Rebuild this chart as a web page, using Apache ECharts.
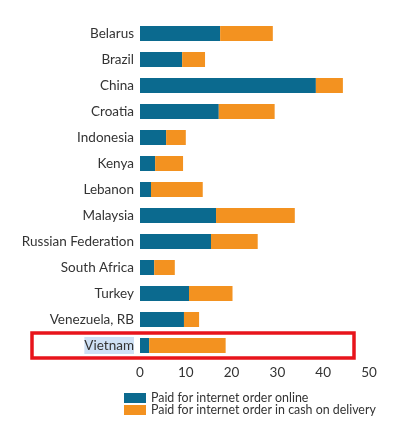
<!DOCTYPE html>
<html>
<head>
<meta charset="utf-8">
<script src="https://cdn.jsdelivr.net/npm/echarts@6/dist/echarts.min.js"></script>
<style>html,body{margin:0;padding:0;background:#fff;}#c{width:396px;height:429px;}</style>
</head>
<body>
<div id="c"></div>
<script>
var categories = ['Belarus','Brazil','China','Croatia','Indonesia','Kenya','Lebanon','Malaysia','Russian Federation','South Africa','Turkey','Venezuela, RB','Vietnam'];
var paidOnline = [17.5, 9.2, 38.4, 17.2, 5.7, 3.3, 2.4, 16.6, 15.5, 3.1, 10.7, 9.6, 2.0];
var paidCash = [11.5, 5.0, 5.9, 12.2, 4.3, 6.1, 11.3, 17.2, 10.2, 4.5, 9.5, 3.3, 16.7];
var xTicks = [0, 10, 20, 30, 40, 50];
var seriesNames = ['Paid for internet order online', 'Paid for internet order in cash on delivery'];
var highlightCategory = 'Vietnam';

var chart = echarts.init(document.getElementById('c'));
var font = 'Lato, "Open Sans", sans-serif';
chart.setOption({
  animation: false,
  color: ['#0b6a8f', '#f39220'],
  grid: {left: 140, right: 27, top: 20.5, bottom: 70.5, containLabel: false},
  legend: {
    orient: 'vertical', left: 119, top: 387, itemWidth: 22, itemHeight: 10, itemGap: 0,
    icon: 'rect', textStyle: {fontFamily: font, fontSize: 12.4, color: '#333', padding: [0, 0, 0, 0]},
    data: seriesNames
  },
  xAxis: {
    type: 'value', min: xTicks[0], max: xTicks[xTicks.length - 1], interval: 10,
    axisLine: {show: false}, axisTick: {show: false}, splitLine: {show: false},
    axisLabel: {fontFamily: font, fontSize: 13.5, color: '#333', margin: 7}
  },
  yAxis: {
    type: 'category', data: categories, inverse: true,
    axisLine: {show: false}, axisTick: {show: false},
    axisLabel: {
      fontFamily: font, fontSize: 13.5, color: '#333', margin: 6,
      formatter: function (v) { return v === highlightCategory ? '{hl|' + v + '}' : v; },
      rich: {hl: {backgroundColor: '#cfe1f5', fontFamily: font, fontSize: 13.5, color: '#333', padding: [2, 0, 1, 0]}}
    }
  },
  series: [
    {name: seriesNames[0], type: 'bar', stack: 't', barWidth: 15, data: paidOnline},
    {name: seriesNames[1], type: 'bar', stack: 't', barWidth: 15, data: paidCash}
  ]
});
var yc = chart.convertToPixel({yAxisIndex: 0}, highlightCategory);
chart.setOption({
  graphic: [{
    type: 'rect', shape: {x: 32, y: yc - 12.5, width: 322, height: 25},
    style: {fill: 'none', stroke: '#e8141b', lineWidth: 3.5}
  }]
});
</script>
</body>
</html>
